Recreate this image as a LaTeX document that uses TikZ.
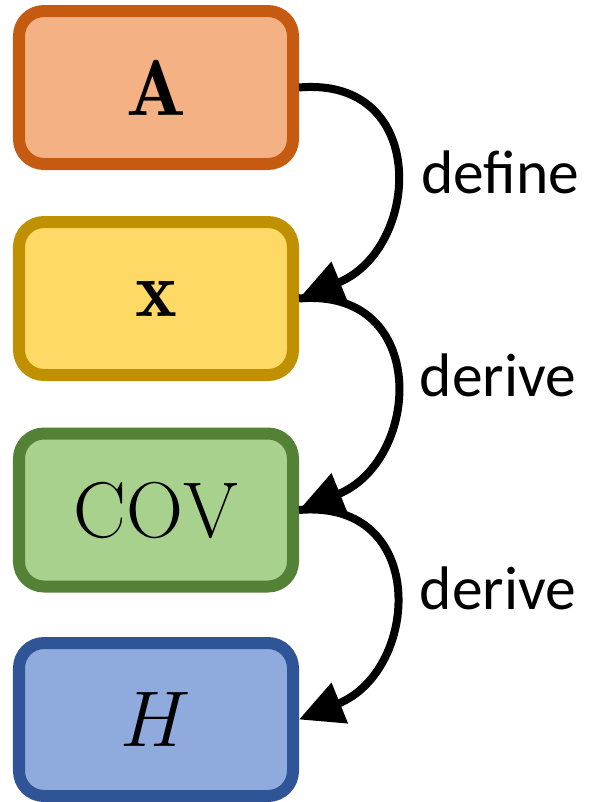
\RequirePackage{fix-cm}
\documentclass[tikz,border=0pt]{standalone}
\usepackage{amsmath}
\usepackage{fontspec}
\newfontfamily\labelfont{Carlito}
\usetikzlibrary{arrows.meta}
\definecolor{OrangeFill}{RGB}{244, 177, 131}
\definecolor{OrangeLine}{RGB}{197, 90, 17}
\definecolor{GoldFill}{RGB}{255, 217, 102}
\definecolor{GoldLine}{RGB}{191, 144, 0}
\definecolor{GreenFill}{RGB}{169, 209, 142}
\definecolor{GreenLine}{RGB}{83, 129, 53}
\definecolor{BlueFill}{RGB}{143, 170, 220}
\definecolor{BlueLine}{RGB}{47, 85, 151}

\begin{document}
\begin{tikzpicture}[
            quantity/.style={rounded corners=0.5cm, line width=0.24cm, minimum width=5.48cm, minimum height=3.06cm, font=\fontsize{45}{52}\selectfont},
            flow/.style={line width=0.16cm, -{Triangle[length=0.88cm, width=0.84cm]}},
            verb/.style={font=\labelfont\fontsize{35}{42}\selectfont}
        ]
            \useasboundingbox (0,0) rectangle (11.8,-16.04);
            \node[quantity, fill=OrangeFill, draw=OrangeLine] (mA) at (3.12,-1.75) {$\mathbf{A}$};
            \node[quantity, fill=GoldFill, draw=GoldLine] (vx) at (3.12,-5.97) {$\mathbf{x}$};
            \node[quantity, fill=GreenFill, draw=GreenLine] (cov) at (3.12,-10.2) {$\mathrm{COV}$};
            \node[quantity, fill=BlueFill, draw=BlueLine] (ent) at (3.12,-14.39) {$H$};
            \draw[flow] (mA.east) to[out=5, in=22, looseness=1.6] (vx.east);
            \draw[flow] (vx.east) to[out=5, in=22, looseness=1.6] (cov.east);
            \draw[flow] (cov.east) to[out=5, in=22, looseness=1.6] (ent.east);
            \node[verb] (l1) at (10.0,-3.44) {define};
            \node[verb] (l2) at (9.96,-7.5) {derive};
            \node[verb] (l3) at (9.96,-11.76) {derive};
        \end{tikzpicture}
\end{document}
